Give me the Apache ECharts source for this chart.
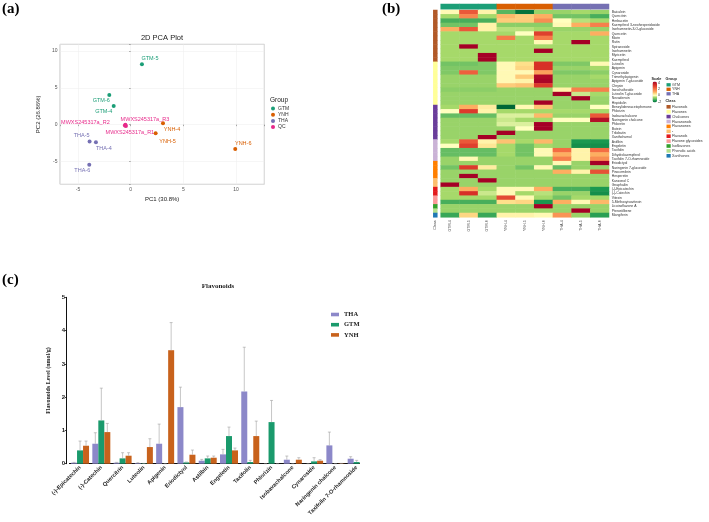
<!DOCTYPE html>
<html>
<head>
<meta charset="utf-8">
<script src="https://cdn.jsdelivr.net/npm/echarts@6/dist/echarts.min.js"></script>
<style>
  html, body { margin: 0; padding: 0; background: #fff; }
  body { width: 709px; height: 522px; position: relative; overflow: hidden; }
  #pca { position: absolute; left: 0; top: 0; width: 350px; height: 232px; }
  #heat { position: absolute; left: 350px; top: 0; width: 359px; height: 270px; }
  #barWrap { position: absolute; left: 0; top: 270px; width: 360px; height: 252px; overflow: hidden; }
  #bar { width: 420px; height: 252px; }
</style>
</head>
<body>
<div id="pca"></div>
<div id="heat"></div>
<div id="barWrap"><div id="bar"></div></div>
<script>
// ---------- (a) PCA ----------
const pcaGroups = ['GTM', 'YNH', 'THA', 'QC'];
const pcaGTM = [[1.07, 8.2, 'GTM-5'], [-2.03, 4.03, 'GTM-6'], [-1.61, 2.54, 'GTM-4']];
const pcaYNH = [[3.07, 0.19, 'YNH-4'], [2.37, -1.17, 'YNH-5'], [9.93, -3.3, 'YNH-6']];
const pcaTHA = [[-3.3, -2.39, 'THA-4'], [-3.9, -2.3, 'THA-5'], [-3.93, -5.43, 'THA-6']];
const pcaQC = [[-0.55, -0.12, 'MWXS245317a_R1'], [-0.5, 0.0, 'MWXS245317a_R2'], [-0.45, -0.18, 'MWXS245317a_R3']];

const groupColors = { GTM: '#1b9e77', YNH: '#d95f02', THA: '#7570b3', QC: '#e7298a' };
const labelOffsets = {
  'GTM-5': [8, -6], 'GTM-6': [-8, 6], 'GTM-4': [-10, 6],
  'YNH-4': [9, 6], 'YNH-5': [12, 8], 'YNH-6': [8, -6],
  'THA-4': [8, 6], 'THA-5': [-8, -6], 'THA-6': [-7, 6],
  'MWXS245317a_R1': [5, 7], 'MWXS245317a_R2': [-40, -2], 'MWXS245317a_R3': [19, -7]
};

const pcaChart = echarts.init(document.getElementById('pca'));
pcaChart.setOption({
  animation: false,
  textStyle: { fontFamily: 'Liberation Sans' },
  grid: { left: 60, top: 44.3, width: 204.3, height: 140, show: true, borderColor: '#9a9a9a', borderWidth: 0.6 },
  xAxis: {
    type: 'value', min: -6.71, max: 12.69, splitNumber: 4,
    name: 'PC1 (30.8%)', nameLocation: 'middle', nameGap: 7,
    nameTextStyle: { fontSize: 6, color: '#222' },
    axisLine: { show: false },
    axisTick: { show: true, length: 1.5, lineStyle: { color: '#555', width: 0.5 } },
    axisLabel: { fontSize: 5, color: '#555', margin: 2.5, formatter: v => (v % 5 === 0 ? String(v) : '') },
    splitLine: { lineStyle: { color: '#ececec', width: 0.5 } }
  },
  yAxis: {
    type: 'value', min: -8.09, max: 10.9, splitNumber: 4,
    name: 'PC2 (26.86%)', nameLocation: 'middle', nameGap: 8,
    nameTextStyle: { fontSize: 6, color: '#222' },
    axisLine: { show: false },
    axisTick: { show: true, length: 1.5, lineStyle: { color: '#555', width: 0.5 } },
    axisLabel: { fontSize: 5, color: '#555', margin: 2.5, formatter: v => (v % 5 === 0 ? String(v) : '') },
    splitLine: { lineStyle: { color: '#ececec', width: 0.5 } }
  },
  legend: {
    data: pcaGroups, orient: 'vertical', left: 271, top: 106, padding: 0,
    icon: 'circle', itemWidth: 4, itemHeight: 4, itemGap: 1.2,
    textStyle: { fontSize: 5, color: '#333', padding: [0, 0, 0, -2] }
  },
  graphic: [
    { type: 'text', x: 2, y: 9, style: { text: '(a)', font: 'bold 15px "Liberation Serif"', fill: '#000', verticalAlign: 'middle' } },
    { type: 'text', x: 162, y: 38, style: { text: '2D PCA Plot', font: '7.5px "Liberation Sans"', fill: '#222', align: 'center', verticalAlign: 'middle' } },
    { type: 'text', x: 270, y: 100, style: { text: 'Group', font: '6.5px "Liberation Sans"', fill: '#222', verticalAlign: 'middle' } }
  ],
  series: [pcaGTM, pcaYNH, pcaTHA, pcaQC].map((pts, i) => ({
    name: pcaGroups[i],
    type: 'scatter',
    symbolSize: 4,
    itemStyle: { color: groupColors[pcaGroups[i]], opacity: 1 },
    label: {
      show: true, position: 'inside', formatter: '{b}',
      fontSize: 5.5, color: groupColors[pcaGroups[i]]
    },
    emphasis: { disabled: true },
    data: pts.map(p => ({ value: [p[0], p[1]], name: p[2], label: { offset: labelOffsets[p[2]] } }))
  }))
});

// ---------- (b) heatmap ----------
const sampleNames = ['GTM-4', 'GTM-5', 'GTM-6', 'YNH-4', 'YNH-5', 'YNH-6', 'THA-4', 'THA-5', 'THA-6'];
const sampleGroup = [0, 0, 0, 1, 1, 1, 2, 2, 2];
const heatGroups = ['GTM', 'YNH', 'THA'];
const classNames = ['Flavonols', 'Flavones', 'Chalcones', 'Flavanonols', 'Flavanones', '-',
  'Flavanols', 'Flavone glycosides', 'Isoflavones', 'Phenolic acids', 'Xanthones'];
const classColors = ['#b15928', '#ffff99', '#6a3d9a', '#cab2d6', '#ff7f00', '#fdbf6f',
  '#e31a1c', '#fb9a99', '#33a02c', '#b2df8a', '#1f78b4'];
const rowClass = [0,0,0,0,0,0,0,0,0,0,0,0, 1,1,1,1,1,1,1,1,1,1, 2,2,2,2,2,2,2,2,
  3,3,3,3,3, 4,4,4,4, 5,5, 6,6, 7,7, 8, 9, 10];
const rowNames = [
  'Baicalein', 'Quercitrin', 'Herbacetin', 'Kaempferol 3-neohesperidoside', 'Isorhamnetin-3-O-glucoside',
  'Quercetin', 'Morin', 'Rutin', 'Spiraeoside', 'Isorhamnetin', 'Myricetin', 'Kaempferol',
  'Luteolin', 'Apigenin', 'Cynaroside', 'Trimethylapigenin', 'Apigenin 7-glucoside', 'Chrysin',
  'Isoschaftoside', 'Luteolin 7-glucoside', 'Nevadensin', 'Hispidulin',
  'Benzylideneacetophenone', 'Phlorizin', 'Isobavachalcone', 'Naringenin chalcone', 'Phloretin',
  'Butein', 'Trilobatin', 'Xanthohumol',
  'Astilbin', 'Engeletin', 'Taxifolin', 'Dihydrokaempferol', 'Taxifolin 7-O-rhamnoside',
  'Eriodictyol', 'Naringenin 7-glucoside', 'Pinocembrin', 'Hesperetin',
  'Kanzonol C', 'Gnaphaliin', '(-)-Epicatechin', '(-)-Catechin',
  'Vitexin', '5-Methoxyisovitexin', 'Licoisoflavone A', 'Pterostilbene', 'Mangiferin'
];
const heatValues = [
  [0.1, 2.3, 0.2, -1.1, -1.9, -0.6, -0.6, -0.5, -0.6],
  [-0.5, 1.6, -0.5, 0.9, 0.7, 1.0, -0.9, -0.9, -1.2],
  [-1.2, -1.2, -1.2, 0.7, 0.7, 1.5, 0.0, -0.4, -0.5],
  [-0.9, -0.9, 0.2, -0.7, -0.7, -0.7, 0.1, 1.0, 1.7],
  [1.0, 2.3, 0.2, -0.4, -0.4, -0.5, -0.6, -0.6, -0.6],
  [-0.5, -0.5, -0.5, -0.5, 0.0, 2.7, -0.5, -0.5, 1.0],
  [-0.5, -0.5, -0.5, 1.8, -0.5, 1.8, -0.5, -0.5, -0.5],
  [-0.5, -0.5, -0.5, -0.5, -0.5, 0.1, -0.5, 4.0, -0.5],
  [-0.5, 4.0, -0.5, -0.5, -0.5, -0.5, -0.5, -0.5, -0.5],
  [-0.5, -0.5, -0.5, -0.5, -0.5, 4.0, -0.5, -0.5, -0.5],
  [-0.5, -0.5, 4.0, -0.5, -0.5, -0.5, -0.5, -0.5, -0.5],
  [-0.5, -0.5, 4.0, -0.5, -0.5, -0.5, -0.5, -0.5, -0.5],
  [-0.9, -0.9, -0.8, 0.1, 0.5, 3.0, -0.8, -0.8, 0.1],
  [-0.8, -0.8, -0.8, 0.1, 0.6, 3.0, -0.6, -0.6, -0.5],
  [-0.8, 2.2, -0.8, 0.1, 0.1, 1.2, -0.8, -0.8, -0.7],
  [-0.6, -0.6, -0.6, 0.1, 0.7, 3.8, -0.6, -0.6, -0.5],
  [-0.6, -0.6, -0.6, 0.1, 0.2, 3.9, -0.6, -0.6, -0.6],
  [-0.6, -0.6, -0.6, 0.7, 0.8, 2.8, -0.6, -0.6, -0.6],
  [-0.7, -0.7, -0.7, -0.6, -0.6, -0.6, 0.2, 1.7, 1.7],
  [-0.6, -0.6, -0.6, -0.6, -0.6, -0.6, 4.0, -0.3, -0.5],
  [-0.6, -0.6, -0.6, -0.6, -0.6, -0.6, -0.6, 4.0, -0.6],
  [-0.6, -0.6, -0.6, -0.6, -0.6, 4.0, -0.6, -0.6, -0.6],
  [-0.5, 1.0, 0.3, -2.2, 0.1, 0.8, -0.6, -0.6, 0.0],
  [0.0, 2.8, 0.2, -0.5, -0.5, -0.5, -0.5, -0.5, -0.5],
  [-1.0, -1.0, -1.0, -0.2, -0.2, 0.9, -0.6, -0.6, 2.3],
  [-0.6, -0.6, -0.6, -0.3, -0.5, -0.5, 0.0, 0.0, 3.7],
  [-0.6, -0.6, -0.6, -0.2, -0.2, 4.0, -0.6, -0.6, -0.6],
  [-0.6, -0.6, -0.6, -0.6, 0.0, 4.0, -0.6, -0.6, -0.6],
  [-0.6, -0.6, -0.6, 4.0, -0.6, -0.6, -0.6, -0.6, -0.6],
  [-0.6, -0.6, 4.0, -0.6, -0.6, -0.6, -0.6, -0.6, -0.6],
  [-0.5, 2.3, 0.2, 0.8, -0.5, 0.9, -0.6, -1.5, -1.5],
  [0.0, 2.7, 0.4, -0.5, -0.9, -0.5, -0.6, -1.6, -1.6],
  [-1.0, -1.0, -1.0, -0.5, -0.9, 0.1, 2.0, 0.2, 2.0],
  [-1.0, -1.0, -1.0, -0.5, -0.9, 0.1, 1.0, 0.2, 1.0],
  [-0.6, 0.1, -0.6, -0.6, -0.6, -0.6, 1.7, 0.2, 1.5],
  [-0.6, -0.6, -0.6, -0.6, -0.6, -0.6, 0.1, -0.6, 4.0],
  [-0.9, 2.8, 0.3, -0.6, -0.9, 0.1, -1.0, -0.6, -0.6],
  [-0.6, -0.6, -0.6, -0.6, -0.6, -0.6, 1.0, 0.2, 2.4],
  [-0.6, 4.0, -0.6, -0.6, -0.6, -0.6, -0.6, -0.6, -0.6],
  [-0.6, -0.6, 4.0, -0.6, -0.6, -0.6, -0.6, -0.6, -0.6],
  [4.0, -0.6, -0.6, -0.6, -0.6, -0.6, -0.6, -0.6, -0.6],
  [-0.5, 1.0, -0.5, 0.1, 0.1, 1.0, -1.2, -1.2, -1.5],
  [-0.5, 3.0, -0.3, 0.1, -0.5, -0.4, -0.6, -0.6, -1.6],
  [-0.5, -0.5, -0.5, 2.5, 0.1, -0.5, -0.9, -0.5, -0.5],
  [-1.2, -1.2, -1.2, 0.5, 0.6, -1.5, 1.0, 0.1, 0.9],
  [-0.6, -0.6, -0.6, -0.6, -0.6, 4.0, -0.6, -0.6, -0.6],
  [-0.6, -0.6, -0.6, -0.6, -0.6, -0.6, -0.6, 4.0, -0.6],
  [-1.3, 0.6, -1.3, 0.2, 0.2, 0.1, 1.4, -0.6, -1.4]
];
const scaleTicks = [4, 2, 0, -2];

const heatData = [];
heatValues.forEach((row, r) => row.forEach((v, c) => heatData.push([c, r, v])));
const classData = rowClass.map((k, r) => [0, r, k]);
const groupData = sampleGroup.map((g, c) => [c, 0, g]);

const hm = { left: 90.7, top: 10, width: 168.3, height: 207.3 };
const heatChart = echarts.init(document.getElementById('heat'));
heatChart.setOption({
  animation: false,
  textStyle: { fontFamily: 'Liberation Sans' },
  grid: [
    { left: hm.left, top: hm.top, width: hm.width, height: hm.height },
    { left: hm.left, top: 4, width: hm.width, height: 5.2 },
    { left: 83.3, top: hm.top, width: 4, height: hm.height }
  ],
  xAxis: [
    { type: 'category', gridIndex: 0, data: sampleNames, axisLine: { show: false }, axisTick: { show: false },
      axisLabel: { rotate: 90, fontSize: 3.6, color: '#444', margin: 3, interval: 0 } },
    { type: 'category', gridIndex: 1, data: sampleNames, show: false },
    { type: 'category', gridIndex: 2, data: ['Class'], axisLine: { show: false }, axisTick: { show: false },
      axisLabel: { rotate: 90, fontSize: 3.8, color: '#444', margin: 3 } }
  ],
  yAxis: [
    { type: 'category', gridIndex: 0, data: rowNames, inverse: true, position: 'right',
      axisLine: { show: false }, axisTick: { show: false },
      axisLabel: { fontSize: 3.4, color: '#333', margin: 2.7, interval: 0 } },
    { type: 'category', gridIndex: 1, data: ['Group'], show: false },
    { type: 'category', gridIndex: 2, data: rowNames, inverse: true, show: false }
  ],
  visualMap: [
    {
      type: 'continuous', seriesIndex: 0, min: -2, max: 4, calculable: false,
      left: 302.5, top: 81.5, itemWidth: 4.5, itemHeight: 21, padding: 0, text: null,
      inRange: { color: ['#006837', '#1a9850', '#66bd63', '#a6d96a', '#ffffbf', '#fee08b', '#fdae61',
        '#f88d52', '#f46d43', '#e34a33', '#d73027', '#bd1a2a', '#a50026'] }
    },
    {
      type: 'piecewise', seriesIndex: 1, orient: 'vertical', align: 'left', inverse: true,
      left: 316.5, top: 82.8, padding: 0,
      itemWidth: 4.2, itemHeight: 3.3, itemGap: 0.5, itemSymbol: 'rect', selectedMode: false, textGap: 1.3,
      textStyle: { fontSize: 3.6, color: '#333' },
      pieces: heatGroups.map((g, i) => ({ value: i, label: g, color: groupColors[g] }))
    },
    {
      type: 'piecewise', seriesIndex: 2, orient: 'vertical', align: 'left', inverse: true,
      left: 316.5, top: 104.8, padding: 0,
      itemWidth: 4.2, itemHeight: 3.6, itemGap: 0.9, itemSymbol: 'rect', selectedMode: false, textGap: 1.3,
      textStyle: { fontSize: 3.6, color: '#333' },
      pieces: classNames.map((c, i) => ({ value: i, label: c, color: classColors[i] }))
    }
  ],
  graphic: [
    { type: 'text', x: 32, y: 9, style: { text: '(b)', font: 'bold 15px "Liberation Serif"', fill: '#000', verticalAlign: 'middle' } },
    { type: 'text', x: 301.5, y: 78.5, style: { text: 'Scale', font: 'bold 3.8px "Liberation Sans"', fill: '#222', verticalAlign: 'middle' } },
    { type: 'text', x: 315.5, y: 78.5, style: { text: 'Group', font: 'bold 3.8px "Liberation Sans"', fill: '#222', verticalAlign: 'middle' } },
    { type: 'text', x: 315.5, y: 101, style: { text: 'Class', font: 'bold 3.8px "Liberation Sans"', fill: '#222', verticalAlign: 'middle' } }
  ].concat(scaleTicks.map((t, i) => ({
    type: 'text', x: 308, y: 83 + i * 6.2,
    style: { text: String(t), font: '3.6px "Liberation Sans"', fill: '#333', verticalAlign: 'middle' }
  }))),
  series: [
    { type: 'heatmap', xAxisIndex: 0, yAxisIndex: 0, data: heatData, emphasis: { disabled: true }, progressive: 0 },
    { type: 'heatmap', xAxisIndex: 1, yAxisIndex: 1, data: groupData, emphasis: { disabled: true } },
    { type: 'heatmap', xAxisIndex: 2, yAxisIndex: 2, data: classData, emphasis: { disabled: true } }
  ]
});

// ---------- (c) flavonoid bars ----------
const flavCats = ['(-)-Epicatechin', '(-)-Catechin', 'Quercitrin', 'Luteolin', 'Apigenin', 'Eriodictyol',
  'Astilbin', 'Engeletin', 'Taxifolin', 'Phlorizin', 'Isobavachalcone', 'Cynaroside',
  'Naringenin chalcone', 'Taxifolin 7-O-rhamnoside'];
const barGroups = ['THA', 'GTM', 'YNH'];
const thaMean = [0.03, 0.60, 0.03, 0.02, 0.60, 1.70, 0.09, 0.28, 2.17, 0, 0.12, 0, 0.55, 0.15];
const thaSd = [0.01, 0.33, 0.01, 0.01, 0.59, 0.60, 0.04, 0.15, 1.33, 0, 0.11, 0, 0.40, 0.06];
const gtmMean = [0.40, 1.30, 0.16, 0.01, 0, 0.04, 0.16, 0.83, 0.05, 1.25, 0, 0.07, 0, 0.05];
const gtmSd = [0.28, 0.97, 0.17, 0, 0, 0.01, 0.07, 0.27, 0.05, 0.65, 0, 0.11, 0, 0.05];
const ynhMean = [0.54, 0.95, 0.24, 0.50, 3.41, 0.27, 0.18, 0.40, 0.83, 0, 0.12, 0.09, 0.01, 0.02];
const ynhSd = [0.14, 0.26, 0.09, 0.25, 0.83, 0.14, 0.05, 0.07, 0.45, 0, 0.06, 0.03, 0, 0];
const yTicks = [0, 5];

const barColors = { THA: '#8c88c9', GTM: '#1a9a6c', YNH: '#c8621c' };
const barW = 6;

function errorSeries(means, sds, shift) {
  return {
    type: 'custom',
    z: 3,
    silent: true,
    data: means.map((m, i) => [i, m, m + sds[i]]),
    renderItem: (params, api) => {
      const base = api.coord([api.value(0), api.value(1)]);
      const top = api.coord([api.value(0), api.value(2)]);
      const x = base[0] + shift;
      const st = { stroke: '#a0a0a0', lineWidth: 0.6 };
      return {
        type: 'group',
        children: [
          { type: 'line', shape: { x1: x, y1: base[1], x2: x, y2: top[1] }, style: st },
          { type: 'line', shape: { x1: x - 1.5, y1: top[1], x2: x + 1.5, y2: top[1] }, style: st }
        ]
      };
    }
  };
}

const barChart = echarts.init(document.getElementById('bar'));
barChart.setOption({
  animation: false,
  textStyle: { fontFamily: 'Liberation Sans' },
  grid: { left: 69.4, top: 27.3, width: 297.9, height: 166.4 },
  legend: {
    data: barGroups, orient: 'vertical', left: 331, top: 41, padding: 0,
    icon: 'rect', itemWidth: 8, itemHeight: 3.6, itemGap: 3.2,
    textStyle: { fontSize: 6.5, fontWeight: 'bold', fontFamily: 'Liberation Serif', color: '#222' }
  },
  xAxis: {
    type: 'category', data: flavCats,
    axisLine: { lineStyle: { color: '#111', width: 1 } },
    axisTick: { show: false },
    axisLabel: { rotate: 45, fontSize: 5.6, fontWeight: 'bold', color: '#222', interval: 0, margin: 3 }
  },
  yAxis: {
    type: 'value', min: yTicks[0], max: yTicks[1], interval: 1, offset: 2.7,
    name: 'Flavonoids Level (nmol/g)', nameLocation: 'middle', nameGap: 7,
    nameTextStyle: { fontFamily: 'Liberation Serif', fontWeight: 'bold', fontSize: 6, color: '#222' },
    axisLine: { show: true, lineStyle: { color: '#111', width: 1 } },
    axisTick: { show: true, length: 2, lineStyle: { color: '#111', width: 0.8 } },
    axisLabel: { fontSize: 6, fontWeight: 'bold', color: '#222', margin: 1.5 },
    splitLine: { show: false }
  },
  graphic: [
    { type: 'text', x: 2, y: 10, style: { text: '(c)', font: 'bold 15px "Liberation Serif"', fill: '#000', verticalAlign: 'middle' } },
    { type: 'text', x: 218, y: 15.7, style: { text: 'Flavonoids', font: 'bold 7px "Liberation Serif"', fill: '#222', align: 'center', verticalAlign: 'middle' } }
  ],
  series: [
    { name: 'THA', type: 'bar', data: thaMean, barWidth: barW, barGap: '0%', itemStyle: { color: barColors.THA } },
    { name: 'GTM', type: 'bar', data: gtmMean, barWidth: barW, barGap: '0%', itemStyle: { color: barColors.GTM } },
    { name: 'YNH', type: 'bar', data: ynhMean, barWidth: barW, barGap: '0%', itemStyle: { color: barColors.YNH } },
    errorSeries(thaMean, thaSd, -barW),
    errorSeries(gtmMean, gtmSd, 0),
    errorSeries(ynhMean, ynhSd, barW)
  ]
});
</script>
</body>
</html>
